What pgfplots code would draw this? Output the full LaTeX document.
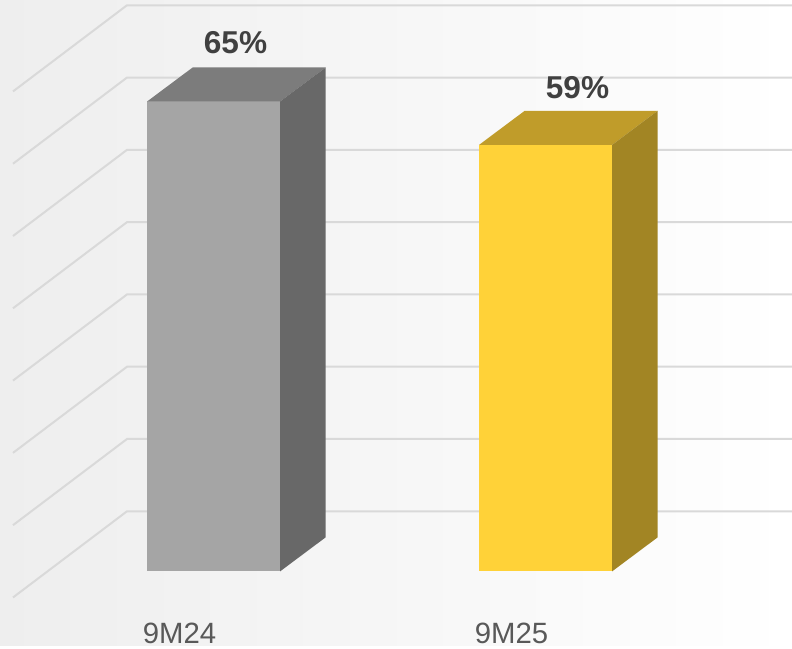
\documentclass[border=0pt]{standalone}
\usepackage{fontspec}
\setmainfont{Liberation Sans}
\usepackage{pgfplots}
\pgfplotsset{compat=1.18}
\definecolor{gridc}{HTML}{D9D9D9}
\definecolor{greyfront}{HTML}{A5A5A5}
\definecolor{greytop}{HTML}{7C7C7C}
\definecolor{greyside}{HTML}{686868}
\definecolor{yelfront}{HTML}{FFD238}
\definecolor{yeltop}{HTML}{C09C2A}
\definecolor{yelside}{HTML}{A28524}
\definecolor{labelc}{HTML}{404040}
\definecolor{tickc}{HTML}{595959}
\definecolor{bgleft}{HTML}{EEEEEE}
\definecolor{bgmid}{HTML}{F8F8F8}
\begin{document}
\begin{tikzpicture}
\begin{axis}[
    scale only axis,
    width=594pt, height=484.2pt,
    xmin=0, xmax=792,
    ymin=-10.30, ymax=79.01,
    axis line style={draw=none},
    major tick length=0pt,
    ytick=\empty,
    xtick={179.5,511.5},
    xticklabels={9M24,9M25},
    xticklabel style={font=\fontsize{22}{24}\selectfont, text=tickc, anchor=base, yshift=1.8pt},
    axis background/.style={left color=bgleft, middle color=bgmid, right color=white},
]
% side wall and back wall grid, one line for each 10 units
\addplot[gridc, line width=1.5pt] coordinates {(13,-3.62) (127,8.30) (792,8.30)};
\addplot[gridc, line width=1.5pt] coordinates {(13,6.38) (127,18.30) (792,18.30)};
\addplot[gridc, line width=1.5pt] coordinates {(13,16.38) (127,28.30) (792,28.30)};
\addplot[gridc, line width=1.5pt] coordinates {(13,26.38) (127,38.30) (792,38.30)};
\addplot[gridc, line width=1.5pt] coordinates {(13,36.38) (127,48.30) (792,48.30)};
\addplot[gridc, line width=1.5pt] coordinates {(13,46.38) (127,58.30) (792,58.30)};
\addplot[gridc, line width=1.5pt] coordinates {(13,56.38) (127,68.30) (792,68.30)};
\addplot[gridc, line width=1.5pt] coordinates {(13,66.38) (127,78.30) (792,78.30)};

% 9M24
\addplot[ybar, bar width=133, fill=greyfront, draw=none] coordinates {(213.7,65)};
\addplot[fill=greytop, draw=none] coordinates {(147.2,65) (280.2,65) (325.7,69.7) (192.7,69.7)} --cycle;
\addplot[fill=greyside, draw=none] coordinates {(280.2,0) (325.7,4.7) (325.7,69.7) (280.2,65)} --cycle;

% 9M25
\addplot[ybar, bar width=133, fill=yelfront, draw=none] coordinates {(545.7,59)};
\addplot[fill=yeltop, draw=none] coordinates {(479.2,59) (612.2,59) (657.7,63.7) (524.7,63.7)} --cycle;
\addplot[fill=yelside, draw=none] coordinates {(612.2,0) (657.7,4.7) (657.7,63.7) (612.2,59)} --cycle;

\node[font=\bfseries\fontsize{23.7}{26}\selectfont, text=labelc, anchor=base] at (axis cs:235.5,71.6) {65\%};
\node[font=\bfseries\fontsize{23.7}{26}\selectfont, text=labelc, anchor=base] at (axis cs:577.5,65.4) {59\%};
\end{axis}
\end{tikzpicture}
\end{document}
